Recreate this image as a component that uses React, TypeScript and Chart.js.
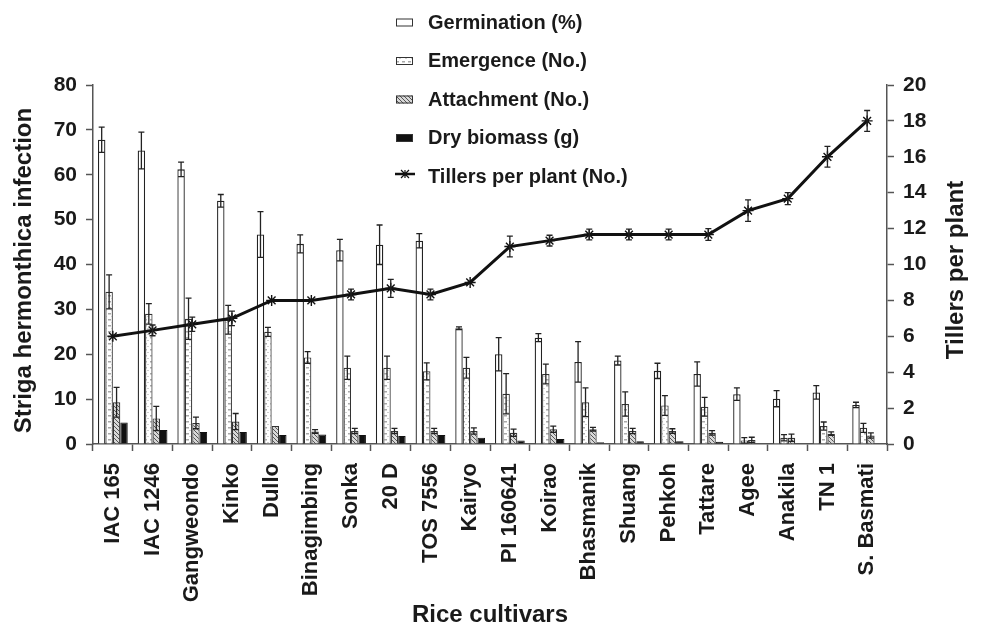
import React, { useEffect, useRef } from "react";
import { Chart, registerables } from "chart.js";

Chart.register(...registerables);

const categories = [
  "IAC 165", "IAC 1246", "Gangweondo", "Kinko", "Dullo", "Binagimbing", "Sonka", "20 D",
  "TOS 7556", "Kairyo", "PI 160641", "Koirao", "Bhasmanik", "Shuang", "Pehkoh", "Tattare",
  "Agee", "Anakila", "TN 1", "S. Basmati",
];

const germination = [67.8, 65.4, 61.2, 54.2, 46.7, 44.6, 43.2, 44.4, 45.3, 25.8, 20.0, 23.7, 18.3, 18.6, 16.3, 15.6, 11.1, 10.1, 11.5, 8.7];
const germinationErr = [2.8, 4.1, 1.6, 1.4, 5.1, 2.0, 2.4, 4.4, 1.6, 0.3, 3.7, 0.9, 4.5, 1.0, 1.7, 2.7, 1.4, 1.8, 1.5, 0.6];
const emergence = [33.9, 29.0, 27.9, 27.7, 25.0, 19.3, 17.0, 17.0, 16.2, 17.0, 11.2, 15.6, 9.3, 8.9, 8.6, 8.3, 0.8, 1.4, 4.0, 3.6];
const emergenceErr = [3.8, 2.3, 4.6, 3.2, 1.0, 1.3, 2.6, 2.6, 1.9, 2.3, 4.5, 2.2, 3.2, 2.7, 2.2, 2.1, 0.6, 0.7, 0.9, 1.0];
const attachment = [9.3, 5.7, 4.7, 5.0, 4.0, 2.8, 2.9, 2.9, 2.9, 2.9, 2.5, 3.3, 3.3, 2.9, 2.9, 2.5, 0.9, 1.4, 2.3, 1.9];
const attachmentErr = [3.3, 2.7, 1.3, 1.8, 0, 0.4, 0.6, 0.6, 0.6, 0.7, 0.8, 0.7, 0.4, 0.6, 0.5, 0.5, 0.6, 0.8, 0.4, 0.6];
const dryBiomass = [4.8, 3.1, 2.7, 2.7, 2.0, 2.1, 2.0, 1.8, 2.0, 1.4, 0.8, 1.1, 0.4, 0.6, 0.6, 0.5, 0.1, 0.1, 0.1, 0.1];
const tillers = [6.0, 6.33, 6.67, 7.0, 8.0, 8.0, 8.33, 8.67, 8.33, 9.0, 11.0, 11.33, 11.67, 11.67, 11.67, 11.67, 13.0, 13.67, 16.0, 18.0];
const tillersErr = [0, 0.3, 0.4, 0.4, 0, 0, 0.3, 0.5, 0.3, 0, 0.58, 0.3, 0.3, 0.3, 0.3, 0.33, 0.6, 0.33, 0.58, 0.58];

const leftTitle = "Striga hermonthica infection";
const rightTitle = "Tillers per plant";
const xTitle = "Rice cultivars";

const FONT = "'Liberation Sans', Arial, Helvetica, sans-serif";
const TEXT = "#1a1a1a";
const AXIS = "#555";

function makeEmergencePattern(ctx: CanvasRenderingContext2D) {
  const c = document.createElement("canvas");
  c.width = 6;
  c.height = 6;
  const g = c.getContext("2d")!;
  g.fillStyle = "#ffffff";
  g.fillRect(0, 0, 6, 6);
  g.fillStyle = "#a8a8a8";
  g.fillRect(0, 1, 3, 1.5);
  g.fillStyle = "#d0d0d0";
  g.fillRect(3, 4, 2, 1);
  return ctx.createPattern(c, "repeat")!;
}

function makeHatchPattern(ctx: CanvasRenderingContext2D) {
  const c = document.createElement("canvas");
  c.width = 4;
  c.height = 4;
  const g = c.getContext("2d")!;
  g.fillStyle = "#d8d8d8";
  g.fillRect(0, 0, 4, 4);
  g.strokeStyle = "#555";
  g.lineWidth = 1;
  g.beginPath();
  g.moveTo(-1, -1); g.lineTo(5, 5);
  g.moveTo(-1, 3); g.lineTo(1, 5);
  g.moveTo(3, -1); g.lineTo(5, 1);
  g.stroke();
  return ctx.createPattern(c, "repeat")!;
}

export default function App() {
  const canvasRef = useRef<HTMLCanvasElement | null>(null);

  useEffect(() => {
    const canvas = canvasRef.current;
    if (!canvas) return;
    const ctx0 = canvas.getContext("2d")!;
    const emergencePattern = makeEmergencePattern(ctx0);
    const hatchPattern = makeHatchPattern(ctx0);

    const errorMap: Record<number, number[]> = {
      0: germinationErr,
      1: emergenceErr,
      2: attachmentErr,
      4: tillersErr,
    };

    const errorBarsPlugin = {
      id: "errorBars",
      afterDatasetsDraw(chart: any) {
        const ctx = chart.ctx as CanvasRenderingContext2D;
        chart.data.datasets.forEach((ds: any, i: number) => {
          const errs = errorMap[i];
          if (!errs) return;
          const meta = chart.getDatasetMeta(i);
          const scale = chart.scales[meta.yAxisID];
          meta.data.forEach((el: any, j: number) => {
            const e = errs[j];
            if (!e) return;
            const v = ds.data[j];
            const x = el.x;
            const yTop = scale.getPixelForValue(v + e);
            const yBot = scale.getPixelForValue(Math.max(0, v - e));
            ctx.save();
            ctx.strokeStyle = "#222";
            ctx.lineWidth = 1.3;
            ctx.beginPath();
            ctx.moveTo(x, yTop); ctx.lineTo(x, yBot);
            ctx.moveTo(x - 3, yTop); ctx.lineTo(x + 3, yTop);
            ctx.moveTo(x - 3, yBot); ctx.lineTo(x + 3, yBot);
            ctx.stroke();
            ctx.restore();
          });
        });
      },
    };

    const legendItems = [
      { label: "Germination (%)", fill: "#ffffff" as any, line: false },
      { label: "Emergence (No.)", fill: emergencePattern as any, line: false },
      { label: "Attachment (No.)", fill: hatchPattern as any, line: false },
      { label: "Dry biomass (g)", fill: "#111111" as any, line: false },
      { label: "Tillers per plant (No.)", fill: null, line: true },
    ];

    const decorPlugin = {
      id: "decor",
      afterDraw(chart: any) {
        const ctx = chart.ctx as CanvasRenderingContext2D;
        ctx.save();
        // legend
        ctx.font = `bold 20px ${FONT}`;
        ctx.textAlign = "left";
        ctx.textBaseline = "alphabetic";
        legendItems.forEach((it, k) => {
          const base = 28.5 + k * 38.5;
          if (it.line) {
            ctx.strokeStyle = "#111";
            ctx.lineWidth = 2.5;
            ctx.beginPath();
            ctx.moveTo(395, base - 8.5);
            ctx.lineTo(415, base - 8.5);
            ctx.stroke();
            ctx.lineWidth = 1.2;
            ctx.beginPath();
            const cx = 405, cy = base - 8.5, r = 4;
            ctx.moveTo(cx - r, cy - r); ctx.lineTo(cx + r, cy + r);
            ctx.moveTo(cx - r, cy + r); ctx.lineTo(cx + r, cy - r);
            ctx.moveTo(cx, cy - r); ctx.lineTo(cx, cy + r);
            ctx.stroke();
          } else {
            ctx.fillStyle = it.fill;
            ctx.fillRect(396, base - 10, 17, 8);
            ctx.strokeStyle = "#333";
            ctx.lineWidth = 1;
            ctx.strokeRect(396.5, base - 9.5, 16, 7);
          }
          ctx.fillStyle = TEXT;
          ctx.fillText(it.label, 428, base);
        });
        // axis titles
        ctx.font = `bold 24px ${FONT}`;
        ctx.fillStyle = TEXT;
        ctx.textAlign = "center";
        ctx.textBaseline = "alphabetic";
        ctx.fillText(xTitle, 490, 621.5);

        ctx.save();
        ctx.translate(31, 270.5);
        ctx.rotate(-Math.PI / 2);
        ctx.fillText(leftTitle, 0, 0);
        ctx.restore();

        ctx.save();
        ctx.translate(963, 270);
        ctx.rotate(-Math.PI / 2);
        ctx.fillText(rightTitle, 0, 0);
        ctx.restore();

        ctx.restore();
      },
    };

    const tickFont = { family: FONT, size: 21, weight: "bold" as const };
    const gridOpts = {
      drawOnChartArea: false,
      drawTicks: true,
      tickLength: 7,
      tickColor: AXIS,
      tickWidth: 1.5,
    };

    const chart = new Chart(canvas, {
      type: "bar",
      data: {
        labels: categories,
        datasets: [
          {
            label: "Germination (%)",
            data: germination,
            backgroundColor: "#ffffff",
            borderColor: "#222",
            borderWidth: 1.3,
            yAxisID: "y",
            order: 2,
          },
          {
            label: "Emergence (No.)",
            data: emergence,
            backgroundColor: emergencePattern as any,
            borderColor: "#333",
            borderWidth: 1.2,
            yAxisID: "y",
            order: 2,
          },
          {
            label: "Attachment (No.)",
            data: attachment,
            backgroundColor: hatchPattern as any,
            borderColor: "#333",
            borderWidth: 1.2,
            yAxisID: "y",
            order: 2,
          },
          {
            label: "Dry biomass (g)",
            data: dryBiomass,
            backgroundColor: "#111111",
            borderColor: "#111",
            borderWidth: 1,
            yAxisID: "y",
            order: 2,
          },
          {
            type: "line",
            label: "Tillers per plant (No.)",
            data: tillers,
            yAxisID: "y1",
            borderColor: "#111",
            borderWidth: 3,
            tension: 0,
            pointStyle: "star",
            pointRadius: 5.5,
            pointBorderWidth: 1.4,
            pointBorderColor: "#111",
            pointBackgroundColor: "#111",
            order: 0,
          } as any,
        ],
      },
      options: {
        responsive: false,
        animation: false,
        layout: { padding: { top: 85, left: 0, right: 0, bottom: 0 } },
        plugins: {
          legend: { display: false },
          tooltip: { enabled: false },
          title: { display: false },
        },
        datasets: {
          bar: { categoryPercentage: 0.75, barPercentage: 1.0 },
        },
        scales: {
          x: {
            type: "category",
            ticks: {
              autoSkip: false,
              minRotation: 90,
              maxRotation: 90,
              font: { family: FONT, size: 22, weight: "bold" },
              color: TEXT,
              padding: 12,
            },
            grid: { ...gridOpts, offset: true },
            border: { display: true, color: AXIS, width: 1.5 },
            afterFit: (s: any) => { s.height = 183; },
          },
          y: {
            position: "left",
            min: 0,
            max: 80,
            ticks: { stepSize: 10, font: tickFont, color: TEXT, padding: 9 },
            grid: gridOpts,
            border: { display: true, color: AXIS, width: 1.5 },
            afterFit: (s: any) => { s.width = 93; },
          },
          y1: {
            position: "right",
            min: 0,
            max: 20,
            ticks: { stepSize: 2, font: tickFont, color: TEXT, padding: 9 },
            grid: gridOpts,
            border: { display: true, color: AXIS, width: 1.5 },
            afterFit: (s: any) => { s.width = 98; },
          },
        },
      } as any,
      plugins: [errorBarsPlugin, decorPlugin],
    });

    return () => {
      chart.destroy();
    };
  }, []);

  return (
    <div style={{ position: "fixed", left: 0, top: 0, width: 985, height: 627, background: "#fff" }}>
      <canvas ref={canvasRef} width={985} height={627} style={{ display: "block", width: 985, height: 627 }} />
    </div>
  );
}
